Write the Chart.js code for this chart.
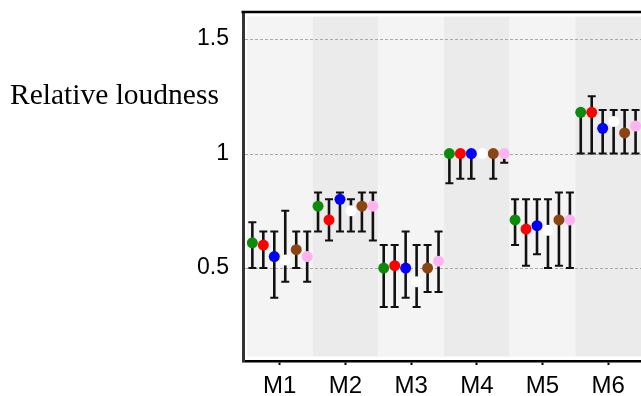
<!DOCTYPE html>
<html>
<head>
<meta charset="utf-8">
<script src="https://cdn.jsdelivr.net/npm/chart.js@4.4.1/dist/chart.umd.min.js"></script>
<style>
  html, body { margin: 0; padding: 0; background: #fff; }
  #wrap { position: relative; width: 641px; height: 396px; }
</style>
</head>
<body>
<div id="wrap"><canvas id="c" width="641" height="396"></canvas></div>
<script>
// Conditions on the horizontal axis
const categories = ['M1', 'M2', 'M3', 'M4', 'M5', 'M6'];
// Vertical axis tick values and their labels
const yTickValues = [0.5, 1, 1.5];
const yTickLabels = ['0.5', '1', '1.5'];
const yTitle = 'Relative loudness';

// Series: mean, lower and upper end of the error bar, per condition
const seriesNames = ['Listener group A', 'Listener group B', 'Listener group C', 'Listener group D', 'Listener group E', 'Listener group F'];
const seriesColors = ['#0a8c0a', '#ff0000', '#0000ff', '#ffffff', '#8b4513', '#ffb3f2'];

const meanA = [0.61, 0.77, 0.50, 1.00, 0.71, 1.18];
const lowA  = [0.50, 0.66, 0.33, 0.87, 0.60, 1.00];
const highA = [0.70, 0.83, 0.60, 1.00, 0.80, 1.19];

const meanB = [0.60, 0.71, 0.51, 1.00, 0.67, 1.18];
const lowB  = [0.50, 0.62, 0.33, 0.89, 0.51, 1.00];
const highB = [0.66, 0.80, 0.60, 1.00, 0.80, 1.25];

const meanC = [0.55, 0.80, 0.50, 1.00, 0.685, 1.11];
const lowC  = [0.37, 0.66, 0.37, 0.89, 0.56, 1.00];
const highC = [0.66, 0.83, 0.66, 1.00, 0.80, 1.19];

const meanD = [0.535, 0.75, 0.44, 1.00, 0.665, 1.14];
const lowD  = [0.44, 0.66, 0.33, 1.00, 0.50, 1.00];
const highD = [0.75, 0.80, 0.60, 1.00, 0.80, 1.19];

const meanE = [0.58, 0.77, 0.50, 1.00, 0.71, 1.09];
const lowE  = [0.50, 0.66, 0.395, 0.89, 0.51, 1.00];
const highE = [0.66, 0.83, 0.60, 1.00, 0.83, 1.19];

const meanF = [0.55, 0.77, 0.53, 1.00, 0.71, 1.12];
const lowF  = [0.44, 0.62, 0.395, 0.96, 0.50, 1.00];
const highF = [0.66, 0.83, 0.66, 1.00, 0.83, 1.19];

const means = [meanA, meanB, meanC, meanD, meanE, meanF];
const lows  = [lowA, lowB, lowC, lowD, lowE, lowF];
const highs = [highA, highB, highC, highD, highE, highF];

// Series are dodged side by side inside each condition
const nSeries = means.length;
const dodgeStep = 0.167;
const dodge = s => (s - (nSeries - 1) / 2) * dodgeStep;

const datasets = means.map((m, s) => ({
  label: seriesNames[s],
  data: m.map((v, i) => ({ x: i + dodge(s), y: v, lo: lows[s][i], hi: highs[s][i] })),
  backgroundColor: seriesColors[s],
  borderColor: seriesColors[s],
  borderWidth: 0,
  pointRadius: 5.5,
  pointHoverRadius: 5.5
}));

// Alternating condition bands, dashed grid lines and error bars
const backdrop = {
  id: 'backdrop',
  beforeDatasetsDraw(chart) {
    const { ctx, chartArea: a, scales: { x, y } } = chart;
    ctx.save();
    // condition bands
    const inset = 4.5;
    categories.forEach((c, i) => {
      const l = x.getPixelForValue(i - 0.5);
      const r = x.getPixelForValue(i + 0.5);
      ctx.fillStyle = i % 2 === 0 ? '#f4f4f4' : '#ebebeb';
      ctx.fillRect(l, a.top + inset, r - l, a.bottom - a.top - 2 * inset);
    });
    // dashed horizontal grid
    ctx.strokeStyle = '#a9a9a9';
    ctx.lineWidth = 1;
    ctx.setLineDash([3, 2]);
    yTickValues.forEach(v => {
      const py = Math.round(y.getPixelForValue(v)) + 0.5;
      ctx.beginPath();
      ctx.moveTo(a.left + 2, py);
      ctx.lineTo(a.right, py);
      ctx.stroke();
    });
    ctx.setLineDash([]);
    // error bars
    ctx.strokeStyle = '#111';
    chart.data.datasets.forEach(ds => {
      ds.data.forEach(p => {
        const px = x.getPixelForValue(p.x);
        const pl = y.getPixelForValue(p.lo);
        const ph = y.getPixelForValue(p.hi);
        if (Math.abs(pl - ph) < 0.5) return;
        ctx.lineWidth = 2.6;
        ctx.beginPath();
        ctx.moveTo(px, pl);
        ctx.lineTo(px, ph);
        ctx.stroke();
        ctx.lineWidth = 2;
        ctx.beginPath();
        ctx.moveTo(px - 4, pl);
        ctx.lineTo(px + 4, pl);
        ctx.moveTo(px - 4, ph);
        ctx.lineTo(px + 4, ph);
        ctx.stroke();
      });
    });
    ctx.restore();
  },
  afterDraw(chart) {
    const { ctx, chartArea: a } = chart;
    ctx.save();
    // top frame line
    ctx.strokeStyle = '#000';
    ctx.lineWidth = 2.5;
    ctx.beginPath();
    ctx.moveTo(a.left - 1.5, a.top);
    ctx.lineTo(a.right, a.top);
    ctx.stroke();
    // vertical axis title, set horizontally to the left of the plot
    ctx.fillStyle = '#000';
    ctx.font = '29.5px "Liberation Serif", "Times New Roman", serif';
    ctx.textBaseline = 'alphabetic';
    ctx.textAlign = 'left';
    ctx.fillText(yTitle, 10, 104);
    ctx.restore();
  }
};

new Chart(document.getElementById('c'), {
  type: 'scatter',
  data: { datasets },
  plugins: [backdrop],
  options: {
    responsive: false,
    animation: false,
    events: [],
    layout: { autoPadding: false, padding: { top: 12, right: 0, left: 0, bottom: 0 } },
    plugins: { legend: { display: false }, tooltip: { enabled: false } },
    scales: {
      x: {
        type: 'linear',
        min: -0.56,
        max: 5.5,
        afterBuildTicks: s => { s.ticks = categories.map((c, i) => ({ value: i })); },
        afterFit: s => { s.height = 35; s.paddingLeft = 0; s.paddingRight = 0; },
        ticks: {
          callback: (v) => categories[v],
          color: '#000',
          font: { family: '"Liberation Sans", Arial, sans-serif', size: 24 },
          padding: 7,
          maxRotation: 0,
          autoSkip: false
        },
        grid: { display: true, drawOnChartArea: false, drawTicks: true, tickLength: 4, tickColor: '#000', tickWidth: 2 },
        border: { display: true, color: '#000', width: 2.5 }
      },
      y: {
        type: 'linear',
        min: 0.094,
        max: 1.618,
        afterBuildTicks: s => { s.ticks = yTickValues.map(v => ({ value: v })); },
        afterFit: s => { s.width = 243; s.paddingTop = 0; s.paddingBottom = 0; },
        ticks: {
          callback: (v) => yTickLabels[yTickValues.indexOf(v)],
          color: '#000',
          font: { family: '"Liberation Sans", Arial, sans-serif', size: 23 },
          padding: 14
        },
        grid: { display: false, drawTicks: false },
        border: { display: true, color: '#333', width: 3 }
      }
    }
  }
});
</script>
</body>
</html>
